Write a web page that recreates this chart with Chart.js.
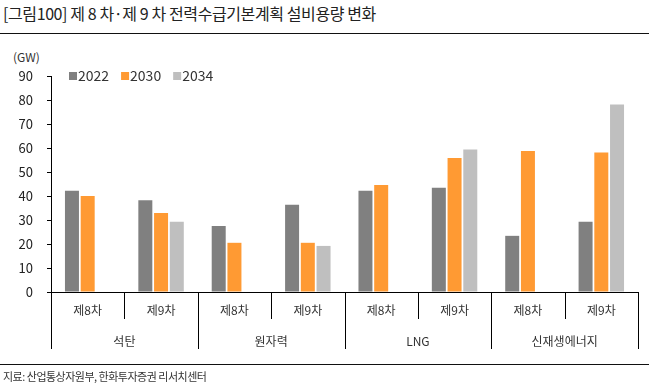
<!DOCTYPE html>
<html><head><meta charset="utf-8">
<script src="https://cdn.jsdelivr.net/npm/chart.js@4.4.1/dist/chart.umd.min.js"></script>
<style>
html,body{margin:0;padding:0;background:#fff;}
#wrap{position:relative;width:649px;height:391px;overflow:hidden;font-family:"Noto Sans CJK KR","Noto Sans",sans-serif;color:#222;}
#title{position:absolute;left:3px;top:3px;font-size:16px;line-height:20px;white-space:nowrap;letter-spacing:-0.4px;}
#line1{position:absolute;left:0;top:33px;width:649px;height:1px;background:#111;}
#line2{position:absolute;left:0;top:364px;width:649px;height:1px;background:#111;}
#foot{position:absolute;left:3px;top:368px;font-size:11px;line-height:16px;white-space:nowrap;color:#333;letter-spacing:-0.5px;}
#unit{position:absolute;left:13px;top:49px;font-size:12px;line-height:16px;color:#333;}
canvas{position:absolute;left:0;top:0;}
</style></head>
<body>
<div id="wrap">
  <div id="title">[그림100] 제 8 차·제 9 차 전력수급기본계획 설비용량 변화</div>
  <div id="line1"></div>
  <div id="unit">(GW)</div>
  <canvas id="c" width="649" height="391"></canvas>
  <div id="line2"></div>
  <div id="foot">지료: 산업통상자원부, 한화투자증권 리서치센터</div>
</div>
<script>
const categories = ['제8차','제9차','제8차','제9차','제8차','제9차','제8차','제9차'];
const groups = ['석탄','원자력','LNG','신재생에너지'];
const seriesNames = ['2022','2030','2034'];
const values2022 = [42.2, 38.2, 27.5, 36.4, 42.2, 43.4, 23.4, 29.3];
const values2030 = [40.0, 32.9, 20.5, 20.5, 44.6, 55.8, 58.8, 58.1];
const values2034 = [null, 29.3, null, 19.2, null, 59.4, null, 78.1];
const seriesColors = ['#808080', '#FF9A33', '#BFBFBF'];
const yMin = 0, yMax = 90, yStep = 10;

const FONT = '"Noto Sans CJK KR","Noto Sans",sans-serif';

const legendPlugin = {
  id: 'customLegend',
  afterDraw(chart) {
    const ctx = chart.ctx;
    ctx.save();
    ctx.font = '14px ' + FONT;
    ctx.textBaseline = 'middle';
    ctx.textAlign = 'left';
    let x = 69;
    const yc = 76;
    chart.data.datasets.forEach((ds) => {
      ctx.fillStyle = ds.backgroundColor;
      ctx.fillRect(x, yc - 4, 8, 8);
      ctx.fillStyle = '#333';
      ctx.fillText(ds.label, x + 9, yc);
      x += 9 + ctx.measureText(ds.label).width + 12;
    });
    ctx.restore();
  }
};

const groupAxisPlugin = {
  id: 'groupAxis',
  afterDraw(chart) {
    const xs = chart.scales.x;
    const ctx = chart.ctx;
    const n = categories.length;
    const top = xs.top;
    ctx.save();
    ctx.strokeStyle = '#000';
    ctx.lineWidth = 1;
    for (let i = 0; i <= n; i++) {
      let x;
      if (i === 0) x = xs.left;
      else if (i === n) x = xs.right;
      else x = (xs.getPixelForValue(i - 1) + xs.getPixelForValue(i)) / 2;
      x = Math.round(x) + 0.5;
      const len = (i % 2 === 0) ? 57 : 27;
      ctx.beginPath();
      ctx.moveTo(x, top);
      ctx.lineTo(x, top + len);
      ctx.stroke();
    }
    ctx.font = '12px ' + FONT;
    ctx.fillStyle = '#333';
    ctx.textAlign = 'center';
    ctx.textBaseline = 'middle';
    groups.forEach((g, gi) => {
      const x = (xs.getPixelForValue(gi * 2) + xs.getPixelForValue(gi * 2 + 1)) / 2;
      ctx.fillText(g, x, top + 49);
    });
    ctx.restore();
  }
};

const dataArrays = [values2022, values2030, values2034];
new Chart(document.getElementById('c'), {
  type: 'bar',
  data: {
    labels: categories,
    datasets: seriesNames.map((name, i) => ({
      label: name,
      data: dataArrays[i],
      backgroundColor: seriesColors[i],
      borderWidth: 0,
      categoryPercentage: 0.643,
      barPercentage: 0.89
    }))
  },
  options: {
    responsive: false,
    animation: false,
    devicePixelRatio: 1,
    layout: { padding: { left: 0, top: 76, right: 11, bottom: 39 } },
    plugins: { legend: { display: false }, tooltip: { enabled: false } },
    scales: {
      y: {
        min: yMin, max: yMax,
        ticks: { stepSize: yStep, font: { family: FONT, size: 13 }, color: '#222', padding: 14 },
        grid: { drawOnChartArea: false, tickLength: 4, color: '#000' },
        border: { color: '#000', width: 1 },
        afterFit: (s) => { s.width = 51; }
      },
      x: {
        ticks: { font: { family: FONT, size: 12 }, color: '#333', padding: 11, maxRotation: 0, autoSkip: false },
        grid: { display: false, drawTicks: false },
        border: { color: '#000', width: 1 },
        afterFit: (s) => { s.height = 60; }
      }
    }
  },
  plugins: [legendPlugin, groupAxisPlugin]
});
</script>
</body></html>
